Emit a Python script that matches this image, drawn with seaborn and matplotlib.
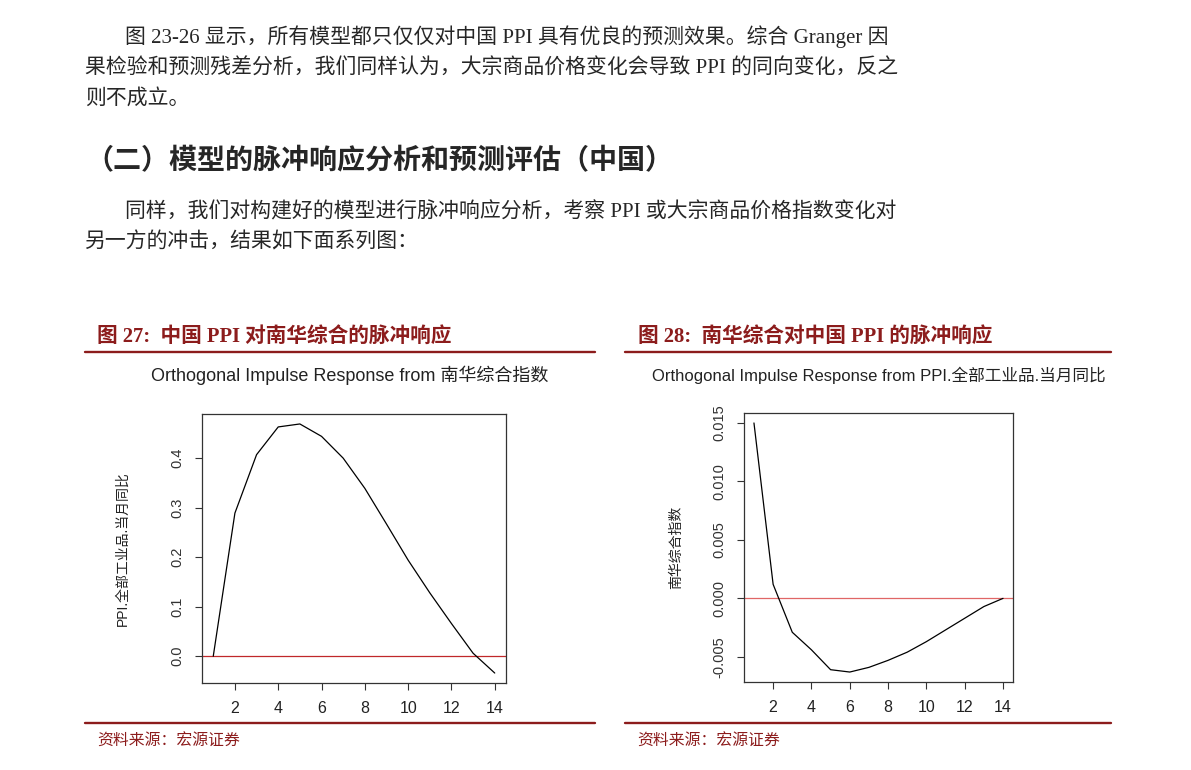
import matplotlib
matplotlib.use("Agg")
import matplotlib.pyplot as plt
import seaborn as sns
import pandas as pd
from matplotlib.lines import Line2D

# ---------------- data ----------------
horizon = list(range(1, 15))
ppi_response = [0.0, 0.289, 0.407, 0.463, 0.469, 0.444, 0.400, 0.339, 0.267,
                0.194, 0.128, 0.066, 0.006, -0.034]
nanhua_response = [0.0150, 0.0012, -0.0029, -0.0044, -0.0061, -0.0063, -0.0059,
                   -0.0053, -0.0046, -0.0037, -0.0027, -0.0017, -0.0007, 0.0000]

x_ticks = [2, 4, 6, 8, 10, 12, 14]
x_tick_labels = ["2", "4", "6", "8", "10", "12", "14"]
ppi_yticks = [0.0, 0.1, 0.2, 0.3, 0.4]
ppi_ytick_labels = ["0.0", "0.1", "0.2", "0.3", "0.4"]
nanhua_yticks = [-0.005, 0.0, 0.005, 0.010, 0.015]
nanhua_ytick_labels = ["-0.005", "0.000", "0.005", "0.010", "0.015"]

para1 = ["图 23-26 显示，所有模型都只仅仅对中国 PPI 具有优良的预测效果。综合 Granger 因",
         "果检验和预测残差分析，我们同样认为，大宗商品价格变化会导致 PPI 的同向变化，反之",
         "则不成立。"]
heading = "（二）模型的脉冲响应分析和预测评估（中国）"
para2 = ["同样，我们对构建好的模型进行脉冲响应分析，考察 PPI 或大宗商品价格指数变化对",
         "另一方的冲击，结果如下面系列图："]

caption1 = "图 27:  中国 PPI 对南华综合的脉冲响应"
caption2 = "图 28:  南华综合对中国 PPI 的脉冲响应"
title1 = "Orthogonal Impulse Response from 南华综合指数"
title2 = "Orthogonal Impulse Response from PPI.全部工业品.当月同比"
ylabel1 = "PPI.全部工业品.当月同比"
ylabel2 = "南华综合指数"
source = "资料来源：宏源证券"

df1 = pd.DataFrame({"horizon": horizon, "response": ppi_response})
df2 = pd.DataFrame({"horizon": horizon, "response": nanhua_response})

# ---------------- style ----------------
sns.set_theme(style="white")
plt.rcParams["font.family"] = ["Liberation Sans", "Noto Sans CJK SC"]
SERIF = ["Liberation Serif", "Noto Sans CJK SC"]
DARKRED = "#8c1c1c"

W, H = 1191, 770
fig = plt.figure(figsize=(W / 100, H / 100), dpi=100)
fig.patch.set_facecolor("white")


def fx(px):
    return px / W


def fy(py):
    return 1 - py / H


# ---------------- body text ----------------
body_fs = 15
fig.text(fx(125), fy(37), para1[0], family=SERIF, fontsize=body_fs, va="center", ha="left")
fig.text(fx(85), fy(69), para1[1], family=SERIF, fontsize=body_fs, va="center", ha="left")
fig.text(fx(85), fy(99), para1[2], family=SERIF, fontsize=body_fs, va="center", ha="left")
fig.text(fx(85), fy(162), heading, family=SERIF, fontsize=20.2, fontweight="bold",
         va="center", ha="left")
fig.text(fx(125), fy(212), para2[0], family=SERIF, fontsize=body_fs, va="center", ha="left")
fig.text(fx(85), fy(242), para2[1], family=SERIF, fontsize=body_fs, va="center", ha="left")

# captions and rules
fig.text(fx(97), fy(337), caption1, family=SERIF, fontsize=14.9, fontweight="bold",
         color=DARKRED, va="center", ha="left")
fig.text(fx(638), fy(337), caption2, family=SERIF, fontsize=14.9, fontweight="bold",
         color=DARKRED, va="center", ha="left")
for (x0, x1) in [(85, 595), (625, 1111)]:
    for yy in (352, 723):
        fig.add_artist(Line2D([fx(x0), fx(x1)], [fy(yy), fy(yy)], color=DARKRED,
                              lw=1.7, transform=fig.transFigure))
fig.text(fx(97), fy(741), source, fontsize=11.4, style="italic", color=DARKRED,
         va="center", ha="left")
fig.text(fx(637), fy(741), source, fontsize=11.4, style="italic", color=DARKRED,
         va="center", ha="left")

# chart titles
fig.text(fx(350), fy(375), title1, fontsize=13, color="#222222", ha="center", va="center")
fig.text(fx(879), fy(375), title2, fontsize=12, color="#222222", ha="center", va="center")


# ---------------- charts ----------------
def draw_panel(ax, df, yticks, ylabels, ylabel, zero_color, label_x):
    sns.lineplot(data=df, x="horizon", y="response", ax=ax, color="black", lw=0.9)
    ax.axhline(0, color=zero_color, lw=0.9, zorder=1)
    ax.margins(x=0.04, y=0.04)
    ax.set_xticks(x_ticks, x_tick_labels)
    ax.set_yticks(yticks, ylabels)
    ax.set_xlabel("")
    ax.set_ylabel(ylabel, fontsize=10, color="#222222", va="center")
    ax.yaxis.set_label_coords(label_x, 0.5)
    ax.tick_params(axis="both", direction="out", length=5, width=0.8, colors="#333333",
                   bottom=True, left=True, labelsize=11.5, pad=8)
    ax.tick_params(axis="y", labelsize=10.5)
    for lab in ax.get_yticklabels():
        lab.set_rotation(90)
        lab.set_va("center")
    for lab in ax.get_xticklabels():
        lab.set_color("#222222")
    for s in ax.spines.values():
        s.set_color("#333333")
        s.set_linewidth(0.9)
    ax.grid(False)


ax1 = fig.add_axes([fx(202), fy(683), fx(506) - fx(202), (683 - 414) / H])
draw_panel(ax1, df1, ppi_yticks, ppi_ytick_labels, ylabel1, "#c0282a",
           (123 - 202) / 304)

ax2 = fig.add_axes([fx(744), fy(682), fx(1013) - fx(744), (682 - 413) / H])
draw_panel(ax2, df2, nanhua_yticks, nanhua_ytick_labels, ylabel2, "#e06666",
           (676 - 744) / 269)

fig.savefig("out.png", dpi=100, facecolor="white")
